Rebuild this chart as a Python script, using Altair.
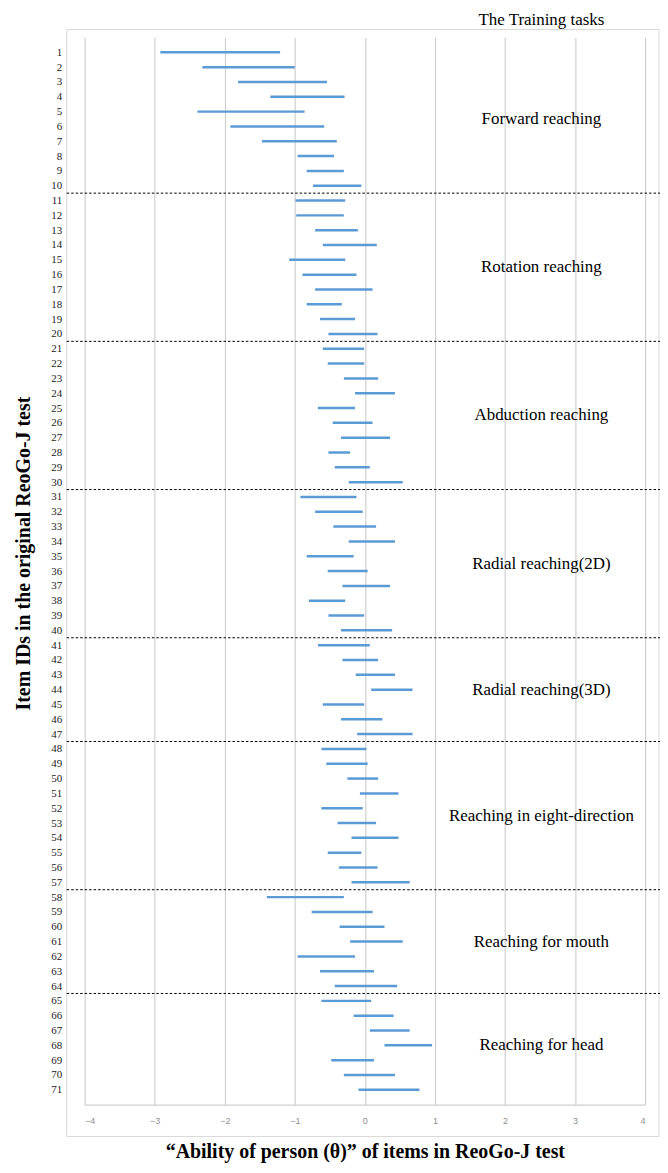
import altair as alt
import pandas as pd

# ---- data ----
items = list(range(1, 72))
low = [-2.92, -2.32, -1.81, -1.35, -2.39, -1.92, -1.47, -0.96, -0.83, -0.74,
       -0.99, -0.98, -0.71, -0.60, -1.08, -0.89, -0.71, -0.83, -0.64, -0.52,
       -0.60, -0.53, -0.30, -0.14, -0.67, -0.46, -0.34, -0.52, -0.43, -0.23,
       -0.92, -0.71, -0.45, -0.23, -0.83, -0.53, -0.32, -0.80, -0.52, -0.34,
       -0.67, -0.32, -0.13, 0.09, -0.60, -0.34, -0.11,
       -0.62, -0.55, -0.25, -0.07, -0.62, -0.39, -0.19, -0.53, -0.37, -0.19,
       -1.40, -0.76, -0.36, -0.21, -0.96, -0.64, -0.43,
       -0.62, -0.16, 0.07, 0.28, -0.48, -0.30, -0.09]
high = [-1.21, -1.00, -0.54, -0.29, -0.86, -0.58, -0.40, -0.44, -0.30, -0.05,
        -0.28, -0.30, -0.10, 0.17, -0.28, -0.12, 0.11, -0.33, -0.14, 0.18,
        -0.01, -0.01, 0.19, 0.43, -0.14, 0.11, 0.36, -0.21, 0.07, 0.54,
        -0.12, -0.03, 0.16, 0.43, -0.16, 0.04, 0.36, -0.28, -0.01, 0.39,
        0.07, 0.19, 0.43, 0.68, -0.01, 0.25, 0.68,
        0.02, 0.04, 0.19, 0.48, -0.03, 0.16, 0.48, -0.05, 0.18, 0.64,
        -0.30, 0.11, 0.28, 0.54, -0.14, 0.13, 0.46,
        0.09, 0.41, 0.64, 0.96, 0.13, 0.43, 0.78]

groups = ["Forward reaching", "Rotation reaching", "Abduction reaching",
          "Radial reaching(2D)", "Radial reaching(3D)",
          "Reaching in eight-direction", "Reaching for mouth", "Reaching for head"]
group_first = [1, 11, 21, 31, 41, 48, 58, 65]
group_last = [10, 20, 30, 40, 47, 57, 64, 71]
header = "The Training tasks"
x_ticks = [-4, -3, -2, -1, 0, 1, 2, 3, 4]

# ---- tables ----
seg_df = pd.DataFrame({"item": items, "low": low, "high": high})
grp_df = pd.DataFrame({"group": groups, "first": group_first, "last": group_last})
grp_df["mid"] = (grp_df["first"] + grp_df["last"]) / 2
sep_df = pd.DataFrame({"sep": [v + 0.5 for v in group_last[:-1]]})
head_df = pd.DataFrame({"text": [header]})
one_df = pd.DataFrame({"a": [0]})

W, H = 563, 1072
LABEL_X = 2.52
HEADER_Y = -1.2

xscale = alt.Scale(domain=[-4, 4], nice=False, zero=False)
yscale = alt.Scale(domain=[0, 72], reverse=True, nice=False, zero=False)

serif = "Liberation Serif"

X_TITLE = "\u201cAbility of person (\u03b8)\u201d of items  in ReoGo-J test"
Y_TITLE = "Item IDs in the original ReoGo-J test"


def x_axis():
    return alt.Axis(values=x_ticks, grid=True, gridColor="#cfcfcf", gridWidth=1.2,
                    domain=True, domainColor="#cfcfcf", domainWidth=1.2,
                    ticks=False, labelPadding=12, labelFont="Liberation Sans",
                    labelFontSize=9, labelColor="#8e8e8e", format="d",
                    title=X_TITLE, titleFont=serif, titleFontSize=20,
                    titleFontWeight="bold", titleColor="#000000",
                    titleX=W / 2, titleY=53, titleAlign="center",
                    titleBaseline="alphabetic")


def y_axis():
    return alt.Axis(values=items, grid=False, domain=False, ticks=False,
                    labelPadding=23, labelFont=serif, labelFontSize=11,
                    labelColor="#1a1a1a", labelFlush=False, labelOverlap=False,
                    labelBound=False, labelSeparation=0, format="d",
                    title=Y_TITLE, titleFont=serif, titleFontSize=20,
                    titleFontWeight="bold", titleColor="#000000", titleAngle=270,
                    titleX=-61, titleY=518, titleAlign="center",
                    titleBaseline="middle")


segments = alt.Chart(seg_df).mark_rule(
    color="#5B9BD5", strokeWidth=2.5, strokeCap="butt"
).encode(
    x=alt.X("low:Q", scale=xscale, axis=x_axis()),
    x2="high:Q",
    y=alt.Y("item:Q", scale=yscale, axis=y_axis()),
)

separators = alt.Chart(sep_df).mark_rule(
    color="#000000", strokeWidth=1, strokeDash=[2.5, 2]
).encode(
    y=alt.Y("sep:Q", scale=yscale, axis=y_axis()),
    x=alt.value(-18),
    x2=alt.value(W + 15),
)

group_labels = alt.Chart(grp_df).mark_text(
    font=serif, fontSize=17, color="#000000", align="center", baseline="middle"
).encode(
    x=alt.X("lx:Q", scale=xscale, axis=x_axis()),
    y=alt.Y("mid:Q", scale=yscale, axis=y_axis()),
    text="group:N",
).transform_calculate(lx=str(LABEL_X))

header_text = alt.Chart(head_df).mark_text(
    font=serif, fontSize=17, color="#000000", align="center", baseline="middle"
).encode(
    x=alt.X("lx:Q", scale=xscale, axis=x_axis()),
    y=alt.Y("ly:Q", scale=yscale, axis=y_axis()),
    text="text:N",
).transform_calculate(lx=str(LABEL_X), ly=str(HEADER_Y))

frame = alt.Chart(one_df).mark_rect(
    fillOpacity=0, stroke="#d9d9d9", strokeWidth=1
).encode(
    x=alt.value(-18), x2=alt.value(W + 14),
    y=alt.value(-8), y2=alt.value(H + 32),
)

chart = alt.layer(segments, frame, separators, group_labels, header_text).properties(
    width=W, height=H,
    autosize=alt.AutoSizeParams(type="none"),
    padding={"left": 77, "top": 27, "right": 15, "bottom": 58},
    background="#ffffff",
).configure_view(strokeWidth=0)

chart.save("out.html", embed_options={"renderer": "svg", "actions": False})
